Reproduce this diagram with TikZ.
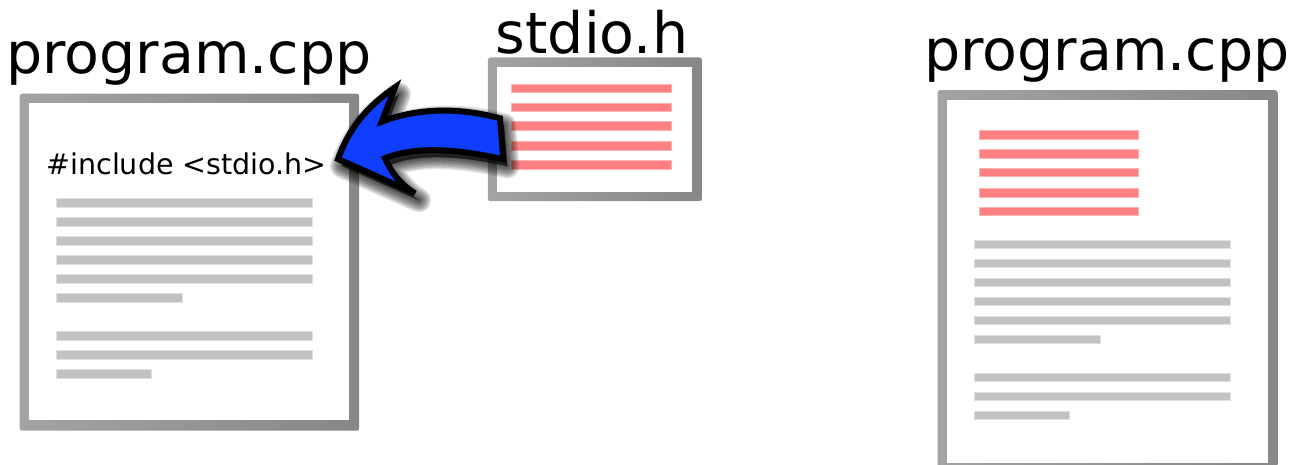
\documentclass[tikz,border=0pt]{standalone}
\usepackage{fontspec}
\setmainfont{DejaVu Sans}
\newcommand{\arrowoutline}{(338,159) .. controls (350,126) and (368,106) .. (395,87.3) -- (381.7,121.7) .. controls (420,107) and (462,108) .. (500,118.3) -- (503.3,159.3) .. controls (462,150) and (418,145) .. (385,158.3) .. controls (391,172) and (400,184) .. (415,193.3) -- cycle}
\definecolor{arrowblue}{HTML}{0F3EFF}
\definecolor{arrowred}{HTML}{FF8080}
\tikzset{
  x=1pt,y=-1pt,
  title/.style={font=\fontsize{57}{60}\selectfont,inner sep=0pt,anchor=base,text=black},
  code/.style={font=\fontsize{28.5}{32}\selectfont,inner sep=0pt,anchor=base,text=black},
  frameouter/.style={anchor=north west,inner sep=0pt,rounded corners=2.5pt,left color=black!36,right color=black!47},
  frameinner/.style={anchor=north west,inner sep=0pt,fill=white},
  greybar/.style={draw=black!12,line width=.7pt,fill=black!24},
  redbar/.style={draw=arrowred!60,line width=.7pt,fill=arrowred},
  arrowbody/.style={draw=black,line width=6pt,fill=arrowblue,miter limit=4}
}
\begin{document}
\begin{tikzpicture}
\useasboundingbox (0,0) rectangle (1299,465);
\fill[white] (0,0) rectangle (1299,465);
\clip (0,0) rectangle (1299,465);
% left document
\node[frameouter,minimum width=339.5pt,minimum height=337pt] (leftframe) at (19.5,93.5) {};
\node[frameinner,minimum width=320pt,minimum height=317pt] (leftpage) at (29,103) {};
\foreach \yy/\xe in {202.7/312.3,221.7/312.3,240.7/312.3,259.7/312.3,279/312.3,298/182.3,336/312.3,355/312.3,374/151.3}
  \path[greybar] (56.3,\yy-4.2) rectangle (\xe,\yy+4.2);
\node[code] (include) at (186.5,174.5) {\#include <stdio.h>};
\node[title] (lefttitle) at (189,74) {program.cpp};
% header document
\node[frameouter,minimum width=214pt,minimum height=143.7pt] (headframe) at (487.7,57.3) {};
\node[frameinner,minimum width=195pt,minimum height=124.7pt] (headpage) at (497,66.7) {};
\foreach \yy in {88.3,107.3,126,146,164.7}
  \path[redbar] (511.7,\yy-4.2) rectangle (671,\yy+4.2);
\node[title] (headtitle) at (592,54) {stdio.h};
% right document
\node[frameouter,minimum width=340pt,minimum height=382pt] (rightframe) at (937.3,90) {};
\node[frameinner,minimum width=320.6pt,minimum height=362.3pt] (rightpage) at (947,100) {};
\foreach \yy in {135,154,172.3,192.7,211.3}
  \path[redbar] (979,\yy-4.2) rectangle (1138.7,\yy+4.2);
\foreach \yy/\xe in {244.3/1230.3,263.2/1230.3,282.3/1230.3,301.3/1230.3,320.3/1230.3,339.3/1100,377.3/1230.3,396.3/1230.3,415.3/1069.3}
  \path[greybar] (974.3,\yy-4.2) rectangle (\xe,\yy+4.2);
\node[title] (righttitle) at (1107,71) {program.cpp};
% arrow with soft shadow
\foreach \ww in {24,21,18,15,12,9,6,3}
  \fill[black,opacity=.12,shift={(4,7)}] [draw=black,line width=\ww pt,line join=round] \arrowoutline;
\path[arrowbody] \arrowoutline;
\end{tikzpicture}
\end{document}
